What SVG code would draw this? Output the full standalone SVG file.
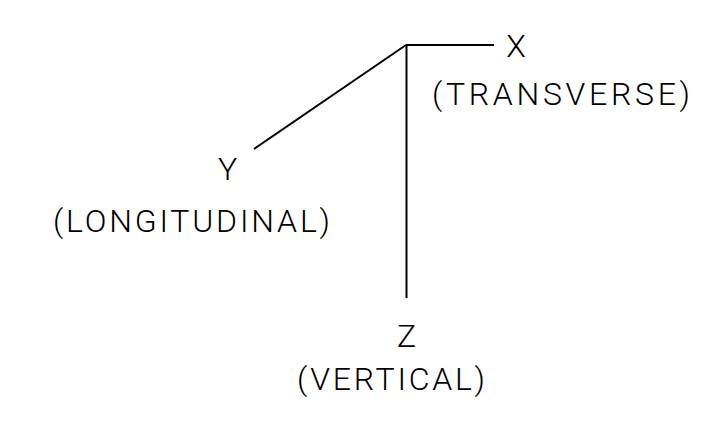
<svg xmlns="http://www.w3.org/2000/svg" width="727" height="426" viewBox="0 0 727 426">
<style>
.ax{stroke:#000;stroke-width:2;fill:none;stroke-linecap:butt}
text{font-family:Roboto,"Liberation Sans",sans-serif;font-weight:300;font-size:32px;fill:#000;text-anchor:middle}
</style>
<rect width="727" height="426" fill="#fff"/>
<g id="connectors">
<line class="ax" x1="406" y1="45" x2="494" y2="45"/>
<line class="ax" x1="406" y1="45" x2="254" y2="149"/>
<line class="ax" x1="406.5" y1="45" x2="406.5" y2="298"/>
</g>
<g id="x-axis">
<text x="516" y="57">X</text>
<text x="561" y="105" textLength="258" lengthAdjust="spacing">(TRANSVERSE)</text>
</g>
<g id="y-axis">
<text x="227.5" y="180">Y</text>
<text x="191.5" y="232" textLength="277" lengthAdjust="spacing">(LONGITUDINAL)</text>
</g>
<g id="z-axis">
<text x="406.5" y="347">Z</text>
<text x="391" y="390" textLength="188" lengthAdjust="spacing">(VERTICAL)</text>
</g>
</svg>
